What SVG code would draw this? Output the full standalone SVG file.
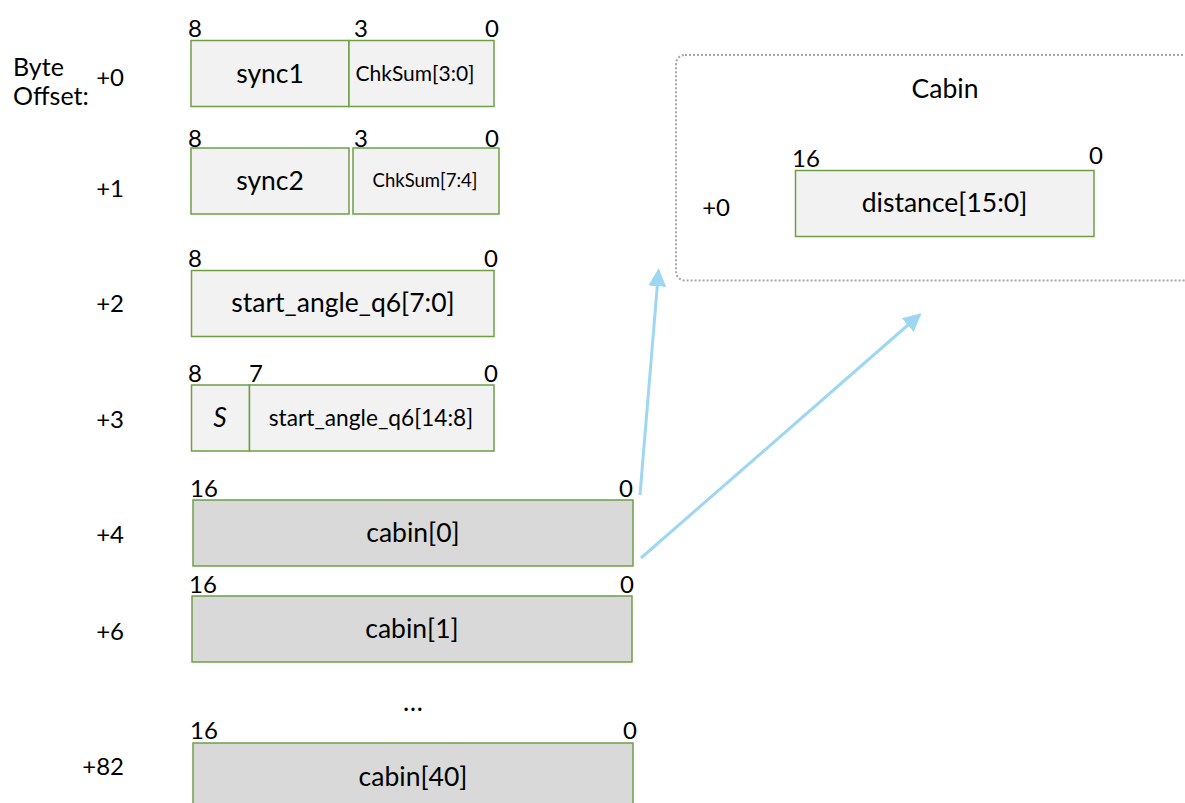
<svg xmlns="http://www.w3.org/2000/svg" width="1185" height="803" viewBox="0 0 1185 803">
<style>
  text { font-family: Lato, "Liberation Sans", sans-serif; fill: #000; }
  .lbl { font-size: 25px; }
  .bit { font-size: 24px; }
  .main { font-size: 26.5px; text-anchor: middle; }
  .small { font-size: 21px; text-anchor: middle; }
  .off { font-size: 24px; text-anchor: end; }
  .light { fill: #f2f2f2; stroke: #6f9f45; stroke-width: 1.5; }
  .dark { fill: #d9d9d9; stroke: #6f9f45; stroke-width: 1.5; }
  .conn { stroke: #9dd7f2; stroke-width: 3; fill: none; }
</style>
<defs>
  <marker id="ah" viewBox="0 0 10 10" refX="9" refY="5" markerWidth="6" markerHeight="6" orient="auto" markerUnits="strokeWidth">
    <path d="M0,0 L10,5 L0,10 z" fill="#9dd7f2"/>
  </marker>
</defs>
<rect width="1185" height="803" fill="#fff"/>

<g id="byte-offset-label">
  <text class="lbl" x="13" y="76">Byte</text>
  <text class="lbl" x="13" y="105">Offset:</text>
</g>

<g id="offsets">
  <text class="off" x="124" y="86">+0</text>
  <text class="off" x="124" y="197">+1</text>
  <text class="off" x="124" y="312">+2</text>
  <text class="off" x="124" y="428">+3</text>
  <text class="off" x="124" y="543">+4</text>
  <text class="off" x="124" y="640">+6</text>
  <text class="off" x="124" y="775">+82</text>
</g>

<g id="row0">
  <rect class="light" x="191" y="40.5" width="158" height="66"/>
  <rect class="light" x="349" y="40.5" width="145" height="66"/>
  <text class="main" x="270" y="83">sync1</text>
  <text class="small" x="415" y="81">ChkSum[3:0]</text>
  <text class="bit" x="188" y="37">8</text>
  <text class="bit" x="354" y="37">3</text>
  <text class="bit" x="485" y="37">0</text>
</g>

<g id="row1">
  <rect class="light" x="191" y="148" width="158" height="66"/>
  <rect class="light" x="353" y="148" width="146" height="66"/>
  <text class="main" x="270" y="190">sync2</text>
  <text class="small" x="425" y="187" style="font-size:18.5px">ChkSum[7:4]</text>
  <text class="bit" x="188" y="147">8</text>
  <text class="bit" x="354" y="147">3</text>
  <text class="bit" x="485" y="147">0</text>
</g>

<g id="row2">
  <rect class="light" x="191.5" y="270.5" width="302.5" height="66"/>
  <text class="main" x="343" y="312">start_angle_q6[7:0]</text>
  <text class="bit" x="188" y="267">8</text>
  <text class="bit" x="484" y="267">0</text>
</g>

<g id="row3">
  <rect class="light" x="191.5" y="385" width="58" height="66"/>
  <rect class="light" x="249.5" y="385" width="244.5" height="66"/>
  <text class="main" x="220" y="427" font-style="italic">S</text>
  <text class="small" x="371" y="426" style="font-size:22.7px">start_angle_q6[14:8]</text>
  <text class="bit" x="188" y="382">8</text>
  <text class="bit" x="249" y="382">7</text>
  <text class="bit" x="484" y="382">0</text>
</g>

<g id="cabin0">
  <rect class="dark" x="193" y="500" width="440" height="66"/>
  <text class="main" x="413" y="542">cabin[0]</text>
  <text class="bit" x="190" y="497">16</text>
  <text class="bit" x="619" y="497">0</text>
</g>

<g id="cabin1">
  <rect class="dark" x="192" y="596" width="440" height="66"/>
  <text class="main" x="412" y="638">cabin[1]</text>
  <text class="bit" x="189" y="593">16</text>
  <text class="bit" x="620" y="593">0</text>
</g>

<g id="ellipsis">
  <text class="main" x="413" y="711">…</text>
</g>

<g id="cabin40">
  <rect class="dark" x="193" y="743" width="440" height="70"/>
  <text class="main" x="413" y="786">cabin[40]</text>
  <text class="bit" x="190" y="739">16</text>
  <text class="bit" x="623" y="739">0</text>
</g>

<g id="cabin-struct">
  <rect x="676" y="55" width="530" height="225.5" rx="9" ry="9" fill="none" stroke="#a6a6a6" stroke-width="2" stroke-dasharray="2 2"/>
  <text class="main" x="945" y="98">Cabin</text>
  <text class="off" x="730" y="216">+0</text>
  <rect class="light" x="795.5" y="170.5" width="298.5" height="66"/>
  <text class="main" x="944.5" y="212">distance[15:0]</text>
  <text class="bit" x="792" y="167">16</text>
  <text class="bit" x="1089" y="164">0</text>
</g>

<g id="connectors">
  <line class="conn" x1="640" y1="495" x2="658.6" y2="270" marker-end="url(#ah)"/>
  <line class="conn" x1="641" y1="558" x2="920" y2="314.5" marker-end="url(#ah)"/>
</g>
</svg>
